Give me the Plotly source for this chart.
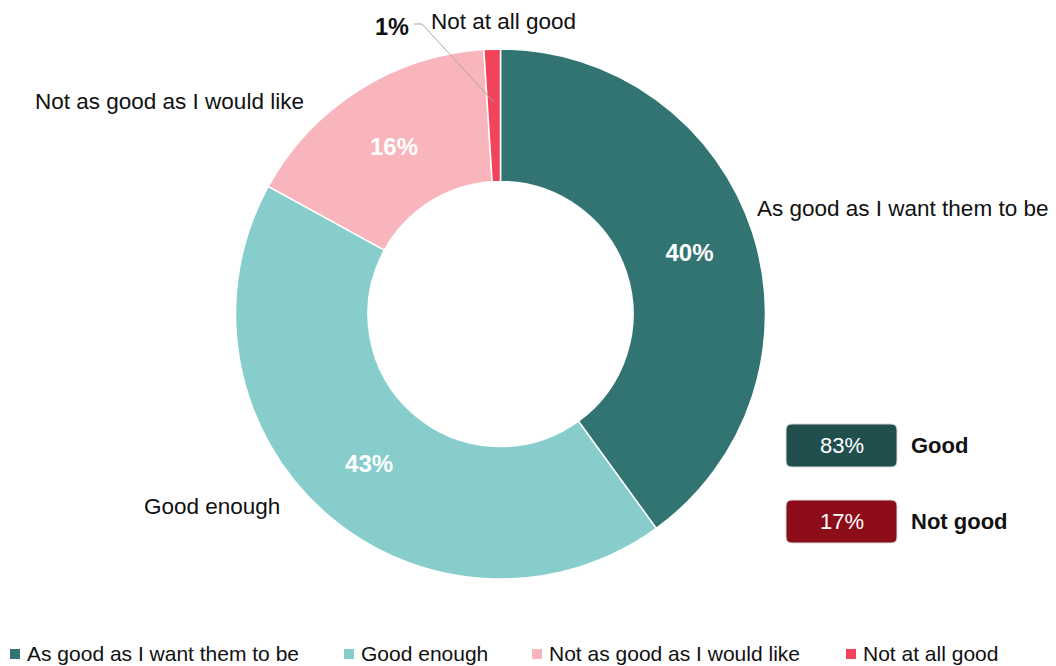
import math
import plotly.graph_objects as go

# ---- data ----
categories = ["As good as I want them to be", "Good enough",
              "Not as good as I would like", "Not at all good"]
values = [40, 43, 16, 1]
colors = ["#317472", "#86CDCC", "#F8B5BC", "#F1435A"]
group_names = ["Good", "Not good"]
group_members = [[0, 1], [2, 3]]
group_colors = ["#214F4E", "#8C0C19"]

W, H = 1056, 666
FONT = "Arial, 'Liberation Sans', sans-serif"

# pie geometry (pixels)
cx, cy, R = 500.5, 314, 265

fig = go.Figure()
fig.add_trace(go.Pie(
    labels=categories, values=values, sort=False, direction="clockwise",
    rotation=0, hole=0.5,
    marker=dict(colors=colors, line=dict(color="white", width=1.5)),
    texttemplate=["%{percent:.0%}"] * 3 + [""],
    textposition="inside", insidetextorientation="horizontal",
    textfont=dict(family=FONT, size=24, color="white", weight="bold"),
    hoverinfo="skip",
    domain=dict(x=[(cx - R) / W, (cx + R) / W], y=[1 - (cy + R) / H, 1 - (cy - R) / H]),
    showlegend=False,
))

# legend (manual, to match spacing of the reference)
legend_x = [15, 349, 537, 851]
legend_y = 654
fig.add_trace(go.Scatter(
    x=legend_x, y=[legend_y] * len(legend_x), mode="markers",
    marker=dict(symbol="square", size=10, color=colors, line=dict(width=0)),
    hoverinfo="skip", showlegend=False, cliponaxis=False,
))

ann = []
for lx, name in zip(legend_x, categories):
    ann.append(dict(x=lx + 10, y=legend_y - 0.5, xref="x", yref="y", text=name,
                    showarrow=False, xanchor="left", yanchor="middle",
                    font=dict(family=FONT, size=21, color="#111111")))

# category labels
lab = []
lab.append(dict(x=755, y=208, text=categories[0], xanchor="left", yanchor="middle"))
lab.append(dict(x=282, y=506, text=categories[1], xanchor="right", yanchor="middle"))
lab.append(dict(x=306, y=101, text=categories[2], xanchor="right", yanchor="middle"))
lab.append(dict(x=429, y=21, text=categories[3], xanchor="left", yanchor="middle"))
for a in lab:
    a.update(xref="x", yref="y", showarrow=False,
             font=dict(family=FONT, size=22.5, color="#111111"))
ann += lab

# small slice label with leader line (angle from data)
total = sum(values)
mid = 360 * (sum(values[:3]) + values[3] / 2) / total
rr = 212
tipx = cx + rr * math.sin(math.radians(mid))
tipy = cy - rr * math.cos(math.radians(mid))
ann.append(dict(x=411, y=27, xref="x", yref="y", xanchor="right", yanchor="middle",
                text=f"{round(values[3] / total * 100)}%", showarrow=False,
                font=dict(family=FONT, size=23.5, color="#111111", weight="bold")))

shapes = []
shapes.append(dict(type="path", xref="x", yref="y",
                   path=f"M414,24 L422,24 L{tipx:.1f},{tipy:.1f}",
                   line=dict(color="#A6A6A6", width=1)))

# group summary boxes
def rrect(x0, y0, x1, y1, r):
    return (f"M{x0+r},{y0} L{x1-r},{y0} Q{x1},{y0} {x1},{y0+r} L{x1},{y1-r} "
            f"Q{x1},{y1} {x1-r},{y1} L{x0+r},{y1} Q{x0},{y1} {x0},{y1-r} "
            f"L{x0},{y0+r} Q{x0},{y0} {x0+r},{y0} Z")

box_centers_y = [445.5, 521.5]
for gname, members, gcol, by in zip(group_names, group_members, group_colors, box_centers_y):
    pct = round(sum(values[i] for i in members) / total * 100)
    shapes.append(dict(type="path", xref="x", yref="y",
                       path=rrect(786, by - 21.5, 897, by + 21.5, 6),
                       fillcolor=gcol, line=dict(color="#D9D9D9", width=1)))
    ann.append(dict(x=841.5, y=by, xref="x", yref="y", text=f"{pct}%", showarrow=False,
                    font=dict(family=FONT, size=22, color="white")))
    ann.append(dict(x=909, y=by, xref="x", yref="y", text=gname, showarrow=False,
                    xanchor="left", font=dict(family=FONT, size=22, color="#111111", weight="bold")))

fig.update_layout(
    width=W, height=H, margin=dict(l=0, r=0, t=0, b=0),
    paper_bgcolor="white", plot_bgcolor="white",
    xaxis=dict(range=[0, W], visible=False, fixedrange=True),
    yaxis=dict(range=[H, 0], visible=False, fixedrange=True),
    annotations=ann, shapes=shapes, showlegend=False,
    font=dict(family=FONT),
)
fig.write_html("out.html", config={"displayModeBar": False},
               post_script="document.body.style.margin='0';document.body.style.padding='0';")
